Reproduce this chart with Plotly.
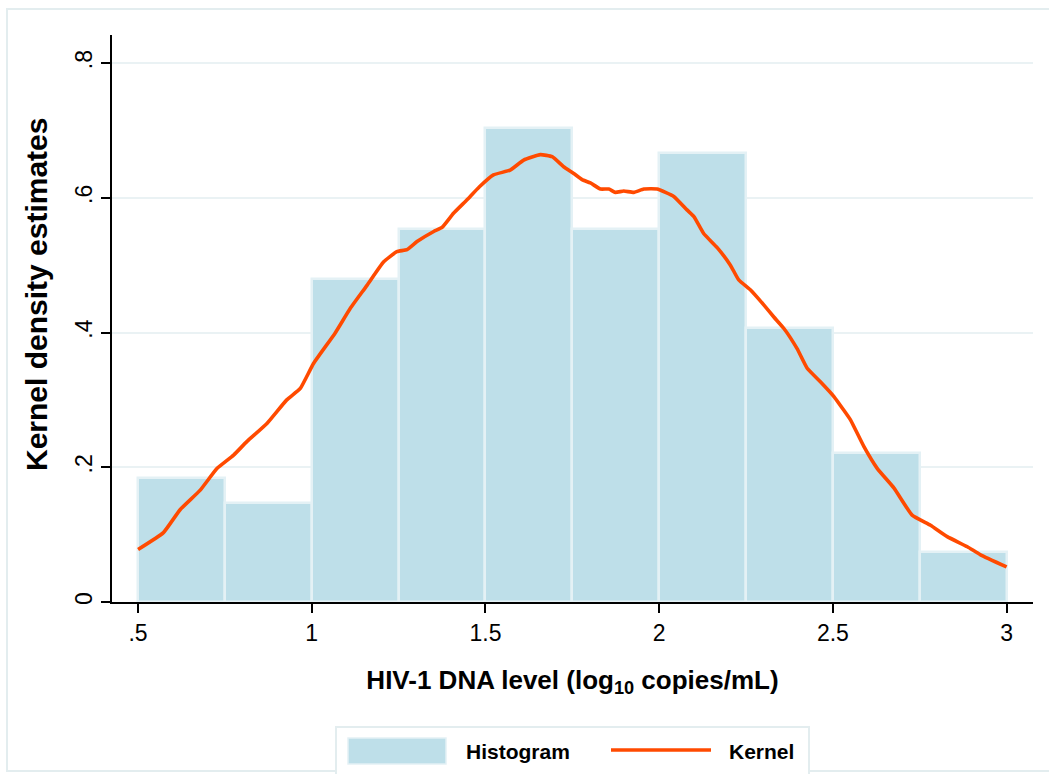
import plotly.graph_objects as go

# ---- data ----
bin_left = [0.5, 0.75, 1.0, 1.25, 1.5, 1.75, 2.0, 2.25, 2.5, 2.75]
bin_width = 0.25
hist_density = [0.184, 0.147, 0.480, 0.554, 0.703, 0.554, 0.666, 0.406, 0.221, 0.074]

kernel_x = [0.5, 0.573, 0.621, 0.679, 0.727, 0.775, 0.813, 0.871, 0.928, 0.967,
            1.005, 1.067, 1.111, 1.159, 1.207, 1.245, 1.274, 1.303, 1.351, 1.375,
            1.408, 1.447, 1.482, 1.523, 1.571, 1.610, 1.658, 1.692, 1.725, 1.754,
            1.778, 1.802, 1.831, 1.855, 1.874, 1.898, 1.927, 1.956, 1.994, 2.042,
            2.080, 2.100, 2.128, 2.167, 2.205, 2.229, 2.263, 2.301, 2.330, 2.359,
            2.397, 2.426, 2.464, 2.503, 2.531, 2.551, 2.589, 2.628, 2.676, 2.728,
            2.781, 2.829, 2.887, 2.925, 3.0]
kernel_y = [0.078, 0.103, 0.137, 0.166, 0.198, 0.218, 0.238, 0.265, 0.300, 0.317,
            0.354, 0.399, 0.436, 0.470, 0.505, 0.520, 0.523, 0.535, 0.550, 0.556,
            0.577, 0.597, 0.616, 0.634, 0.641, 0.656, 0.664, 0.661, 0.646, 0.636,
            0.627, 0.622, 0.613, 0.613, 0.608, 0.610, 0.608, 0.613, 0.613, 0.602,
            0.582, 0.572, 0.547, 0.526, 0.500, 0.478, 0.463, 0.441, 0.423, 0.406,
            0.376, 0.347, 0.327, 0.305, 0.285, 0.270, 0.231, 0.198, 0.169, 0.129,
            0.114, 0.097, 0.082, 0.070, 0.052]

x_ticks = [0.5, 1.0, 1.5, 2.0, 2.5, 3.0]
x_tick_text = [".5", "1", "1.5", "2", "2.5", "3"]
y_ticks = [0, 0.2, 0.4, 0.6, 0.8]
y_tick_text = ["0", ".2", ".4", ".6", ".8"]

x_title = "HIV-1 DNA level (log<sub>10</sub> copies/mL)"
y_title = "Kernel density estimates"
legend_labels = ["Histogram", "Kernel"]

# ---- style ----
BAR_COLOR = "#BEDFE9"
BAR_EDGE = "#E4F1F5"
LINE_COLOR = "#FF4A00"
GRID = "#EAF2F4"
FRAME = "#E3EDEF"
FONT = "Liberation Sans, Arial, sans-serif"

W, H = 1049, 774
L, R, T, B = 112, 1033, 35, 602

def px(xp):
    return (xp - L) / (R - L)

def py(yp):
    return (B - yp) / (B - T)

bar_centers = [b + bin_width / 2 for b in bin_left]

fig = go.Figure()
fig.add_trace(go.Bar(
    x=bar_centers, y=hist_density, width=[bin_width] * len(bin_left),
    marker=dict(color=BAR_COLOR, line=dict(color=BAR_EDGE, width=2.5)),
    name=legend_labels[0], showlegend=False,
))
fig.add_trace(go.Scatter(
    x=kernel_x, y=kernel_y, mode="lines",
    line=dict(color=LINE_COLOR, width=3.6, shape="spline", smoothing=0.4),
    name=legend_labels[1], showlegend=False,
))

fig.update_layout(
    width=W, height=H,
    margin=dict(l=L, r=W - R, t=T, b=H - B),
    paper_bgcolor="white", plot_bgcolor="white",
    font=dict(family=FONT, color="black"),
    bargap=0,
    showlegend=False,
)

fig.update_xaxes(
    range=[0.425, 3.076],
    tickvals=x_ticks, ticktext=x_tick_text,
    tickfont=dict(size=23),
    showline=True, linecolor="black", linewidth=2,
    ticks="outside", ticklen=9, tickwidth=2, tickcolor="black",
    showgrid=False, zeroline=False,
    title=dict(text="<b>" + x_title + "</b>", font=dict(size=26, family=FONT), standoff=26),
)
fig.update_yaxes(
    range=[0, 0.8416],
    tickvals=y_ticks, ticktext=y_tick_text,
    tickangle=-90,
    tickfont=dict(size=23),
    showline=True, linecolor="black", linewidth=2,
    ticks="outside", ticklen=9, tickwidth=2, tickcolor="black",
    showgrid=True, gridcolor=GRID, gridwidth=2,
    zeroline=False,
)

shapes = []
# outer frame
shapes.append(dict(type="rect", xref="paper", yref="paper",
                   x0=px(7), x1=px(1052), y0=py(771), y1=py(9),
                   line=dict(color=FRAME, width=2), fillcolor="rgba(0,0,0,0)", layer="below"))
# legend box
shapes.append(dict(type="rect", xref="paper", yref="paper",
                   x0=px(336), x1=px(809), y0=py(775), y1=py(727),
                   line=dict(color=FRAME, width=2), fillcolor="white"))
# legend swatch
shapes.append(dict(type="rect", xref="paper", yref="paper",
                   x0=px(348), x1=px(446), y0=py(764), y1=py(738),
                   line=dict(color=BAR_EDGE, width=1.5), fillcolor=BAR_COLOR))
# legend line sample
shapes.append(dict(type="line", xref="paper", yref="paper",
                   x0=px(611), x1=px(711), y0=py(750), y1=py(750),
                   line=dict(color=LINE_COLOR, width=3.6)))
fig.update_layout(shapes=shapes)

# y-axis title (placed like the reference, slightly above plot centre)
fig.add_annotation(xref="paper", yref="paper", x=px(36), y=py(295),
                   text="<b>" + y_title + "</b>", showarrow=False, textangle=-90,
                   xanchor="center", yanchor="middle", font=dict(size=30, family=FONT))

fig.add_annotation(xref="paper", yref="paper", x=px(464), y=py(751),
                   text="<b>" + legend_labels[0] + "</b>", showarrow=False,
                   xanchor="left", yanchor="middle", font=dict(size=21, family=FONT))
fig.add_annotation(xref="paper", yref="paper", x=px(727), y=py(751),
                   text="<b>" + legend_labels[1] + "</b>", showarrow=False,
                   xanchor="left", yanchor="middle", font=dict(size=21, family=FONT))

fig.write_html("out.html")
